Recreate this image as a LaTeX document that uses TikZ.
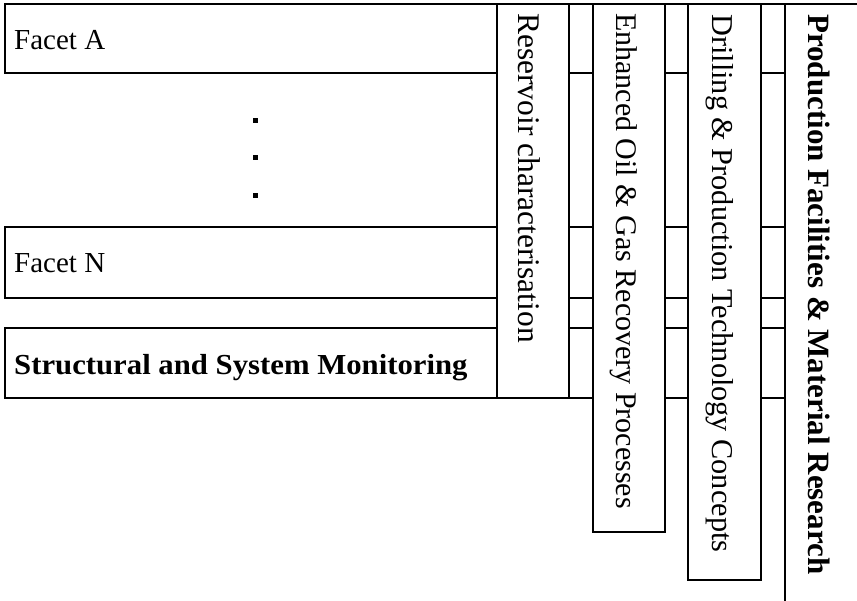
\documentclass[tikz,border=0pt]{standalone}
\usepackage{fontspec}
\setmainfont{Liberation Serif}
\begin{document}
\begin{tikzpicture}[x=1pt,y=-1pt,
  band/.style={draw, line width=1.7pt, anchor=north west, inner sep=0pt, minimum width=900pt},
  col/.style={draw, fill=white, line width=1.7pt, anchor=north west, inner sep=0pt},
  vtext/.style={rotate=-90, anchor=base west, inner sep=0pt, font=\fontsize{30}{36}\selectfont},
  ftext/.style={anchor=base west, inner sep=0pt, font=\fontsize{29}{34}\selectfont},
  dotsq/.style={fill=black, inner sep=0pt, minimum size=5pt}]
\useasboundingbox (0,0) rectangle (857,601);
\clip (0,0) rectangle (857,601);
% horizontal bands
\node[band, minimum height=69pt] (facetA) at (4,3) {};
\node[band, minimum height=71pt] (facetN) at (4,226) {};
\node[band, minimum height=70pt] (struct) at (4,327) {};
% vertical columns
\node[col, minimum width=72pt, minimum height=394pt] (res) at (496,3) {};
\node[col, minimum width=72pt, minimum height=528pt] (eor) at (592,3) {};
\node[col, minimum width=73pt, minimum height=576pt] (dpt) at (687,3) {};
\node[col, minimum width=140pt, minimum height=660pt] (pfm) at (784,3) {};
% texts of bands
\node[ftext] (tA) at (14,50) {Facet A};
\node[ftext] (tN) at (14,273) {Facet N};
\node[ftext] (tS) at (14,375) {\scalebox{1.06}[1]{\bfseries Structural and System Monitoring}};
% dots
\node[dotsq] (d1) at (255.5,120.5) {};
\node[dotsq] (d2) at (255.5,157.5) {};
\node[dotsq] (d3) at (255.5,195.5) {};
% texts of columns
\node[vtext, font=\fontsize{31.5}{36}\selectfont] (tres) at (518,13) {Reservoir characterisation};
\node[vtext] (teor) at (616,13) {Enhanced Oil \& Gas Recovery Processes};
\node[vtext, font=\fontsize{30.3}{36}\selectfont] (tdpt) at (712,14) {Drilling \& Production Technology Concepts};
\node[vtext, font=\fontsize{31}{36}\selectfont] (tpfm) at (808,14) {\bfseries Production Facilities \& Material Research};
\end{tikzpicture}
\end{document}
